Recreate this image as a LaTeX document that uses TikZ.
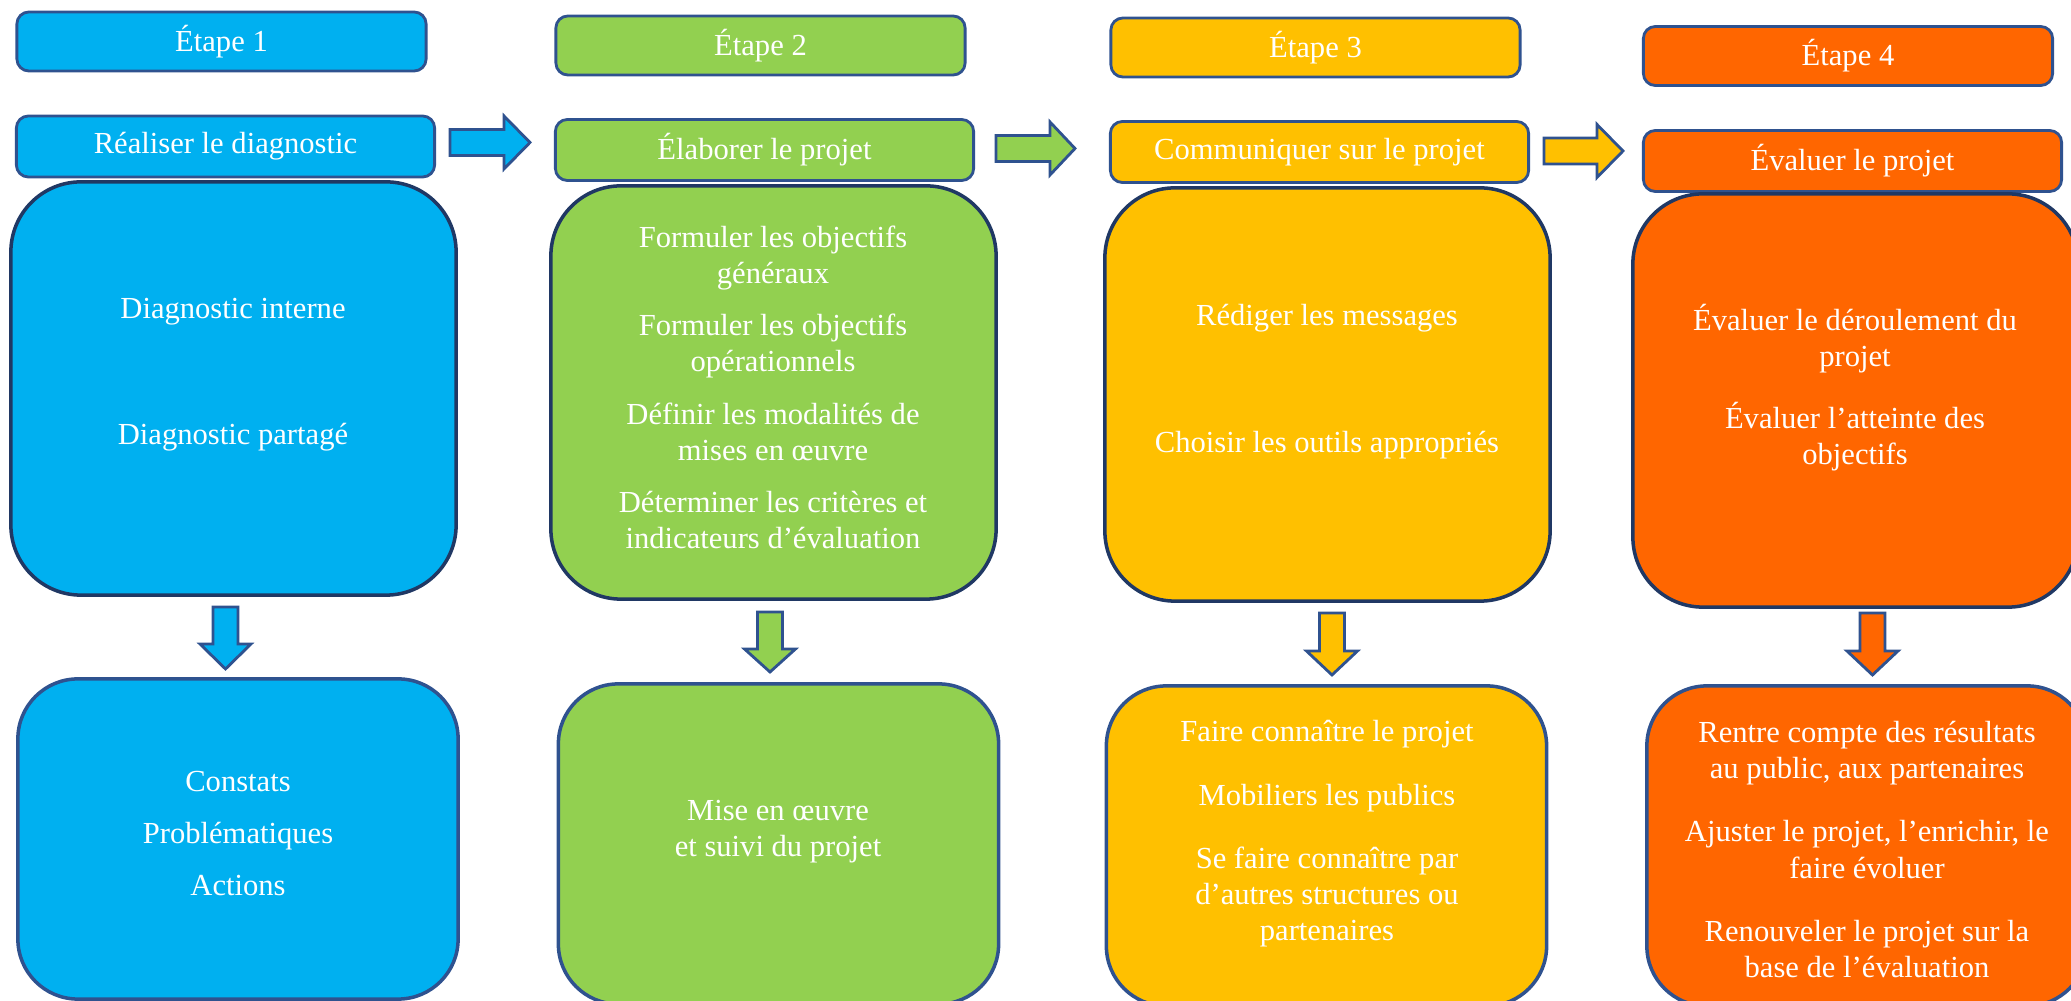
\documentclass[tikz,border=0pt]{standalone}
\usepackage{fontspec}
\setmainfont{Liberation Serif}
\usetikzlibrary{positioning,calc}

\definecolor{bleu}{HTML}{00B0F0}
\definecolor{vert}{HTML}{92D050}
\definecolor{jaune}{HTML}{FFC000}
\definecolor{orange}{HTML}{FF6600}
\definecolor{bordure}{HTML}{2F528F}
\definecolor{bordurefonce}{HTML}{203864}

\tikzset{
    etape/.style={draw=bordure, line width=0.8pt, rounded corners=0.12cm,
        text=white, font=\fontsize{8.7pt}{10.3pt}\selectfont,
        minimum width=4.09cm, minimum height=0.59cm},
    titre/.style={etape, minimum width=4.18cm, minimum height=0.61cm},
    corps/.style={draw=bordurefonce, line width=1pt, rounded corners=0.7cm,
        minimum width=4.45cm, minimum height=4.13cm},
    bas/.style={draw=bordure, line width=1pt, rounded corners=0.6cm,
        minimum width=4.4cm, minimum height=3.2cm},
    texte/.style={text=white, align=center, font=\fontsize{8.7pt}{10.3pt}\selectfont},
    fleche/.style={draw=bordure, line width=0.8pt, line join=miter}
}

\begin{document}
\begin{tikzpicture}[x=0.01cm, y=-0.01cm]

    % Cadre
    \useasboundingbox (0,0) rectangle (2071,1001);
    \clip (0,0) rectangle (2071,1001);

    % Etapes
    \node[etape, fill=bleu] (etape1) at (221.5,41.5) {Étape 1};
    \node[etape, fill=vert] (etape2) at (760.5,45.5) {Étape 2};
    \node[etape, fill=jaune] (etape3) at (1315.5,47.5) {Étape 3};
    \node[etape, fill=orange] (etape4) at (1848,56) {Étape 4};

    % Titres
    \node[titre, fill=bleu] (titre1) at (225.5,146.5) {Réaliser le diagnostic};
    \node[titre, fill=vert] (titre2) at (764.5,150) {Élaborer le projet};
    \node[titre, fill=jaune] (titre3) at (1319.5,152) {Communiquer sur le projet};
    \node[titre, fill=orange] (titre4) at (1852.5,161) {Évaluer le projet};

    % Blocs du milieu
    \node[corps, fill=bleu] (corps1) at (233.5,388.5) {};
    \node[corps, fill=vert] (corps2) at (773.5,392.5) {};
    \node[corps, fill=jaune] (corps3) at (1327.5,394.5) {};
    \node[corps, fill=orange] (corps4) at (1855.5,400.5) {};

    \node[texte] (tcorps1) at (233,375) {Diagnostic interne\\[0.9cm]Diagnostic partagé};
    \node[texte] (tcorps2) at (773,387.5) {Formuler les objectifs\\généraux\\[0.16cm]Formuler les objectifs\\opérationnels\\[0.16cm]Définir les modalités de\\mises en œuvre\\[0.16cm]Déterminer les critères et\\indicateurs d’évaluation};
    \node[texte] (tcorps3) at (1327,381.5) {Rédiger les messages\\[0.91cm]Choisir les outils appropriés};
    \node[texte] (tcorps4) at (1855,387.5) {Évaluer le déroulement du\\projet\\[0.26cm]Évaluer l’atteinte des\\objectifs};

    % Blocs du bas
    \node[bas, fill=bleu] (bas1) at (238,839) {};
    \node[bas, fill=vert] (bas2) at (778.5,844) {};
    \node[bas, fill=jaune] (bas3) at (1326.5,846) {};
    \node[bas, fill=orange] (bas4) at (1867,846) {};

    \node[texte] (tbas1) at (238,833.5) {Constats\\[0.16cm]Problématiques\\[0.16cm]Actions};
    \node[texte] (tbas2) at (778,831.5) {Mise en œuvre\\et suivi du projet};
    \node[texte] (tbas3) at (1327,834) {Faire connaître le projet\\[0.27cm]Mobiliers les publics\\[0.27cm]Se faire connaître par\\d’autres structures ou\\partenaires};
    \node[texte] (tbas4) at (1867,849.5) {Rentre compte des résultats\\au public, aux partenaires\\[0.27cm]Ajuster le projet, l’enrichir, le\\faire évoluer\\[0.27cm]Renouveler le projet sur la\\base de l’évaluation};

    % Fleches vers la droite
    \foreach \xa/\xb/\xc/\yc/\couleur in {450/504/530/142.5/bleu, 996/1050/1075/148.5/vert, 1544/1597/1623/151/jaune}
        \draw[fleche, fill=\couleur] (\xa,\yc-13) -- (\xb,\yc-13) -- (\xb,\yc-26.5) -- (\xc,\yc)
            -- (\xb,\yc+26.5) -- (\xb,\yc+13) -- (\xa,\yc+13) -- cycle;

    % Fleches vers le bas
    \foreach \xc/\ya/\yb/\yc/\couleur in {225.5/607/644/669/bleu, 770/612/649/672/vert, 1332/613/651/675/jaune, 1872.5/613/651/675/orange}
        \draw[fleche, fill=\couleur] (\xc-12.5,\ya) -- (\xc+12.5,\ya) -- (\xc+12.5,\yb) -- (\xc+25.5,\yb)
            -- (\xc,\yc) -- (\xc-25.5,\yb) -- (\xc-12.5,\yb) -- cycle;
\end{tikzpicture}
\end{document}
